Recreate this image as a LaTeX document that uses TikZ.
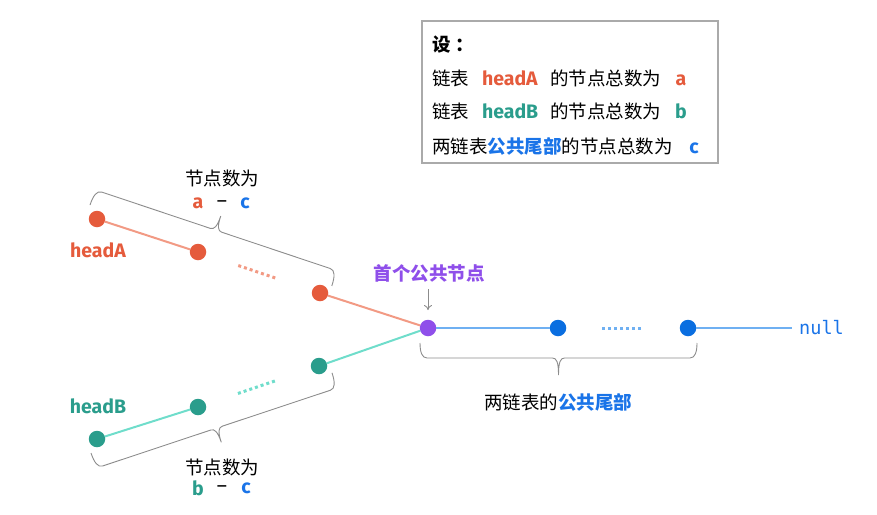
\documentclass[tikz,border=0pt]{standalone}
\usepackage{fontspec}
\setmainfont{Noto Sans CJK SC}
\newfontfamily\lat{Fira Sans}
\newfontfamily\mono{DejaVu Sans Mono}
\usetikzlibrary{calc,arrows.meta}
\definecolor{colNodeA}{HTML}{E55B3C}
\definecolor{colLineA}{HTML}{F29A84}
\definecolor{colNodeB}{HTML}{2A9D8C}
\definecolor{colLineB}{HTML}{6FDDCB}
\definecolor{colPurple}{HTML}{8F4FEA}
\definecolor{colNodeC}{HTML}{0A6EE0}
\definecolor{colLineC}{HTML}{6FB0F2}
\definecolor{colBlueT}{HTML}{1A74E8}
\definecolor{colBrace}{HTML}{8C8C8C}
\definecolor{colBox}{HTML}{AAAAAA}
\begin{document}
\begin{tikzpicture}[x=1pt,y=-1pt,
  every node/.style={inner sep=0pt, outer sep=0pt},
  txt/.style={font=\fontsize{18.5}{22}\selectfont},
  txtb/.style={font=\fontsize{18.5}{22}\selectfont\bfseries},
  latb/.style={font=\fontsize{19.5}{23}\selectfont\lat\bfseries},
  latr/.style={font=\fontsize{19.5}{23}\selectfont\lat},
  monot/.style={font=\fontsize{18.5}{22}\selectfont\mono},
  dotbase/.style={circle, minimum size=16.5pt},
  dotA/.style={dotbase, fill=colNodeA},
  dotB/.style={dotbase, fill=colNodeB},
  dotC/.style={dotbase, fill=colNodeC},
  dotP/.style={dotbase, fill=colPurple},
  lnA/.style={draw=colLineA, line width=2pt},
  lnB/.style={draw=colLineB, line width=2pt},
  lnC/.style={draw=colLineC, line width=2pt},
  dotsA/.style={draw=colLineA, line width=3pt, dash pattern=on 3pt off 3pt},
  dotsB/.style={draw=colLineB, line width=3pt, dash pattern=on 3pt off 3pt},
  dotsC/.style={draw=colLineC, line width=3pt, dash pattern=on 3pt off 3pt},
  bracestyle/.style={draw=colBrace, line width=0.9pt},
  arrowstyle/.style={draw=colBrace, line width=0.9pt, -{To[length=5pt,width=8pt]}},
  boxstyle/.style={draw=colBox, line width=1.2pt, fill=white}
]
\useasboundingbox (0,0) rectangle (877,514);

% info box
\node[boxstyle, anchor=north west, minimum width=296pt, minimum height=142pt] (box) at (422,21) {};
\node[txtb, anchor=base west] (t1) at (432,51.5) {设\kern5pt：};
\node[txt, anchor=base west] (t2a) at (432,85) {链表};
\node[latb, anchor=base west, text=colNodeA] (t2b) at (482,85) {headA};
\node[txt, anchor=base west] (t2c) at (550,85) {的节点总数为};
\node[latb, anchor=base, text=colNodeA] (t2d) at (681,85) {a};
\node[txt, anchor=base west] (t3a) at (432,118.5) {链表};
\node[latb, anchor=base west, text=colNodeB] (t3b) at (482,118.5) {headB};
\node[txt, anchor=base west] (t3c) at (550,118.5) {的节点总数为};
\node[latb, anchor=base, text=colNodeB] (t3d) at (681,118.5) {b};
\node[txt, anchor=base west] (t4a) at (432,153.5) {两链表};
\node[txtb, anchor=base west, text=colBlueT] (t4b) at (t4a.base east) {公共尾部};
\node[txt, anchor=base west] (t4c) at (t4b.base east) {的节点总数为};
\node[latb, anchor=base, text=colBlueT] (t4d) at (694,153.5) {c};

% nodes
\node[dotA] (a1) at (97,219) {};
\node[dotA] (a2) at (198,252) {};
\node[dotA] (a3) at (320,293) {};
\node[dotP] (p) at (428,328) {};
\node[dotB] (b3) at (319,366) {};
\node[dotB] (b2) at (198,407) {};
\node[dotB] (b1) at (97,439) {};
\node[dotC] (c1) at (558,328) {};
\node[dotC] (c2) at (688,328) {};
\node[monot, text=colBlueT] (null) at (821.5,328) {null};

% connectors
\draw[lnA] (a1) -- (a2);
\draw[lnA] (a3) -- (p);
\draw[dotsA] ($(a2)!0.33!(a3)$) -- ($(a2)!0.65!(a3)$);
\draw[lnB] (b1) -- (b2);
\draw[lnB] (b3) -- (p);
\draw[dotsB] ($(b2)!0.33!(b3)$) -- ($(b2)!0.645!(b3)$);
\draw[lnC] (p) -- (c1);
\draw[dotsC] ($(c1)!0.34!(c2)$) -- ($(c1)!0.64!(c2)$);
\draw[lnC, shorten >=7pt] (c2) -- (null);

% labels
\node[latb, text=colNodeA] (ha) at (98,250) {headA};
\node[latb, text=colNodeB] (hb) at (98,406) {headB};
\node[txt] (cntA) at (222,178) {节点数为};
\node[latb, text=colNodeA] (cntAa) at (198,203) {a};
\node[latr] (cntAm) at (222,204) {–};
\node[latb, text=colBlueT] (cntAc) at (245,203) {c};
\node[txt] (cntB) at (222,467) {节点数为};
\node[latb, text=colNodeB] (cntBb) at (198,488) {b};
\node[latr] (cntBm) at (222,489) {–};
\node[latb, text=colBlueT] (cntBc) at (246,488) {c};
\node[txtb, text=colPurple] (first) at (429,273) {首个公共节点};
\node[txt] (tail) at (558,402) {两链表的{\bfseries\color{colBlueT}公共尾部}};

% arrow
\coordinate (ar1) at (428,289);
\coordinate (ar2) at (428,310);
\draw[arrowstyle] (ar1) -- (ar2);

% braces
\begin{scope}[shift={(90,205)}, rotate=-18.5]
\draw[bracestyle] (0,0) .. controls (0,-10) and (2,-16) .. (7,-16) -- (121.5,-16)
  .. controls (125.5,-16) and (127.5,-20) .. (127.5,-31)
  .. controls (127.5,-20) and (129.5,-16) .. (133.5,-16) -- (248,-16)
  .. controls (253,-16) and (255,-10) .. (255,0);
\end{scope}
\begin{scope}[shift={(91,453)}, rotate=18.4]
\draw[bracestyle] (0,0) .. controls (0,10) and (2,16) .. (7,16) -- (121,16)
  .. controls (125,16) and (127,20) .. (127,31)
  .. controls (127,20) and (129,16) .. (133,16) -- (247,16)
  .. controls (252,16) and (254,10) .. (254,0);
\end{scope}
\begin{scope}[shift={(420,343)}]
\draw[bracestyle] (0,0) .. controls (0,9) and (2,15) .. (7,15) -- (132.5,15)
  .. controls (136.5,15) and (138.5,19) .. (138.5,32)
  .. controls (138.5,19) and (140.5,15) .. (144.5,15) -- (270,15)
  .. controls (275,15) and (277,9) .. (277,0);
\end{scope}
\end{tikzpicture}
\end{document}
